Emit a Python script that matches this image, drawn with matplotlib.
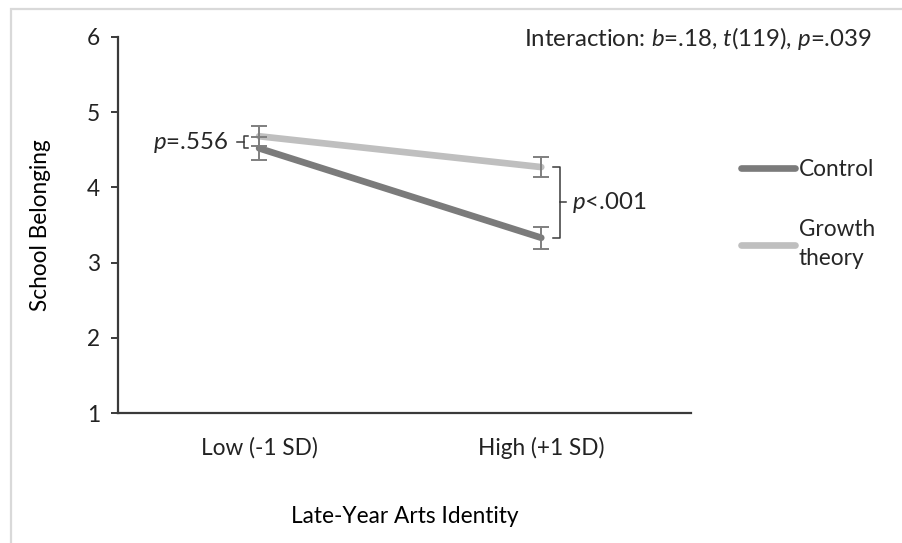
import matplotlib
matplotlib.use('Agg')
import matplotlib.pyplot as plt
from matplotlib import rcParams
from matplotlib.lines import Line2D
from matplotlib.patches import Rectangle

rcParams['font.family'] = 'Lato'
rcParams['mathtext.fontset'] = 'custom'
rcParams['mathtext.rm'] = 'Lato'
rcParams['mathtext.it'] = 'Lato:italic'
rcParams['text.color'] = '#262626'

# simple-slopes data
levels = ['Low (-1 SD)', 'High (+1 SD)']
control_mean = [4.52, 3.33]
control_se = [0.15, 0.145]
growth_mean = [4.68, 4.27]
growth_se = [0.13, 0.135]
groups = ['Control', 'Growth\ntheory']
p_labels = ['$p$=.556', '$p$<.001']
interaction = 'Interaction: $b$=.18, $t$(119), $p$=.039'

c_control = '#7b7b7b'
c_growth = '#bfbfbf'
c_err = '#7f7f7f'
c_ink = '#3a3a3a'
fs = 16.3

fig = plt.figure(figsize=(9.03, 5.43), dpi=100)
fig.patches.append(Rectangle((11 / 903, -0.05), 1.1, 1 - 9 / 543 + 0.05,
                             transform=fig.transFigure, fill=False,
                             edgecolor='#d9d9d9', linewidth=1.6))

ax = fig.add_axes([0.1307, 0.2394, 0.765 - 0.1307, 0.9319 - 0.2394])
x = [0, 1]

ax.plot(x, control_mean, color=c_control, lw=4.8, solid_capstyle='round', zorder=3)
ax.plot(x, growth_mean, color=c_growth, lw=4.8, solid_capstyle='round', zorder=3)
ax.errorbar(x, control_mean, yerr=control_se, fmt='none', ecolor=c_err,
            elinewidth=1.4, capsize=6, capthick=1.4, zorder=4)
ax.errorbar(x, growth_mean, yerr=growth_se, fmt='none', ecolor=c_err,
            elinewidth=1.4, capsize=6, capthick=1.4, zorder=4)

# brackets comparing conditions at each level
def bracket(xv, y0, y1, end_dx, tick_dx):
    ax.plot([xv + end_dx, xv, xv, xv + end_dx], [y0, y0, y1, y1],
            color=c_ink, lw=1.1, zorder=2)
    ym = (y0 + y1) / 2
    ax.plot([xv, xv + tick_dx], [ym, ym], color=c_ink, lw=1.1, zorder=2)
    return ym

ym = bracket(-0.053, growth_mean[0], control_mean[0], 0.015, -0.025)
ax.text(-0.112, ym, p_labels[0], ha='right', va='center', fontsize=fs + 1)
ym = bracket(1.067, growth_mean[1], control_mean[1], -0.025, 0.022)
ax.text(1.11, ym, p_labels[1], ha='left', va='center', fontsize=fs + 1)

ax.set_xlim(-0.5, 1.53)
ax.set_ylim(1, 6)
ax.set_yticks(range(1, 7))
ax.set_xticks(x)
ax.set_xticklabels(levels, fontsize=fs)
ax.tick_params(axis='x', length=0, pad=17, colors='#222222')
ax.tick_params(axis='y', length=5, width=1.4, labelsize=fs, colors=c_ink,
               labelcolor='#222222', pad=8)
for s in ['top', 'right']:
    ax.spines[s].set_visible(False)
for s in ['left', 'bottom']:
    ax.spines[s].set_color(c_ink)
    ax.spines[s].set_linewidth(1.6)

ax.set_ylabel('School Belonging', fontsize=fs, labelpad=26)
ax.set_xlabel('Late-Year Arts Identity', fontsize=fs, labelpad=34)

fig.text(872 / 903, 1 - 38 / 543, interaction, ha='right', va='center',
         fontsize=fs + 1)

handles = [Line2D([], [], color=c_control, lw=4.8, solid_capstyle='round'),
           Line2D([], [], color=c_growth, lw=4.8, solid_capstyle='round')]
leg = fig.legend(handles, groups, loc='upper left', bbox_to_anchor=(0.798, 0.745),
                 frameon=False, fontsize=fs, handlelength=2.4, handletextpad=0.15,
                 labelspacing=1.75, alignment='left')
for t in leg.get_texts():
    t.set_linespacing(1.45)

fig.savefig('out.png', dpi=100)
